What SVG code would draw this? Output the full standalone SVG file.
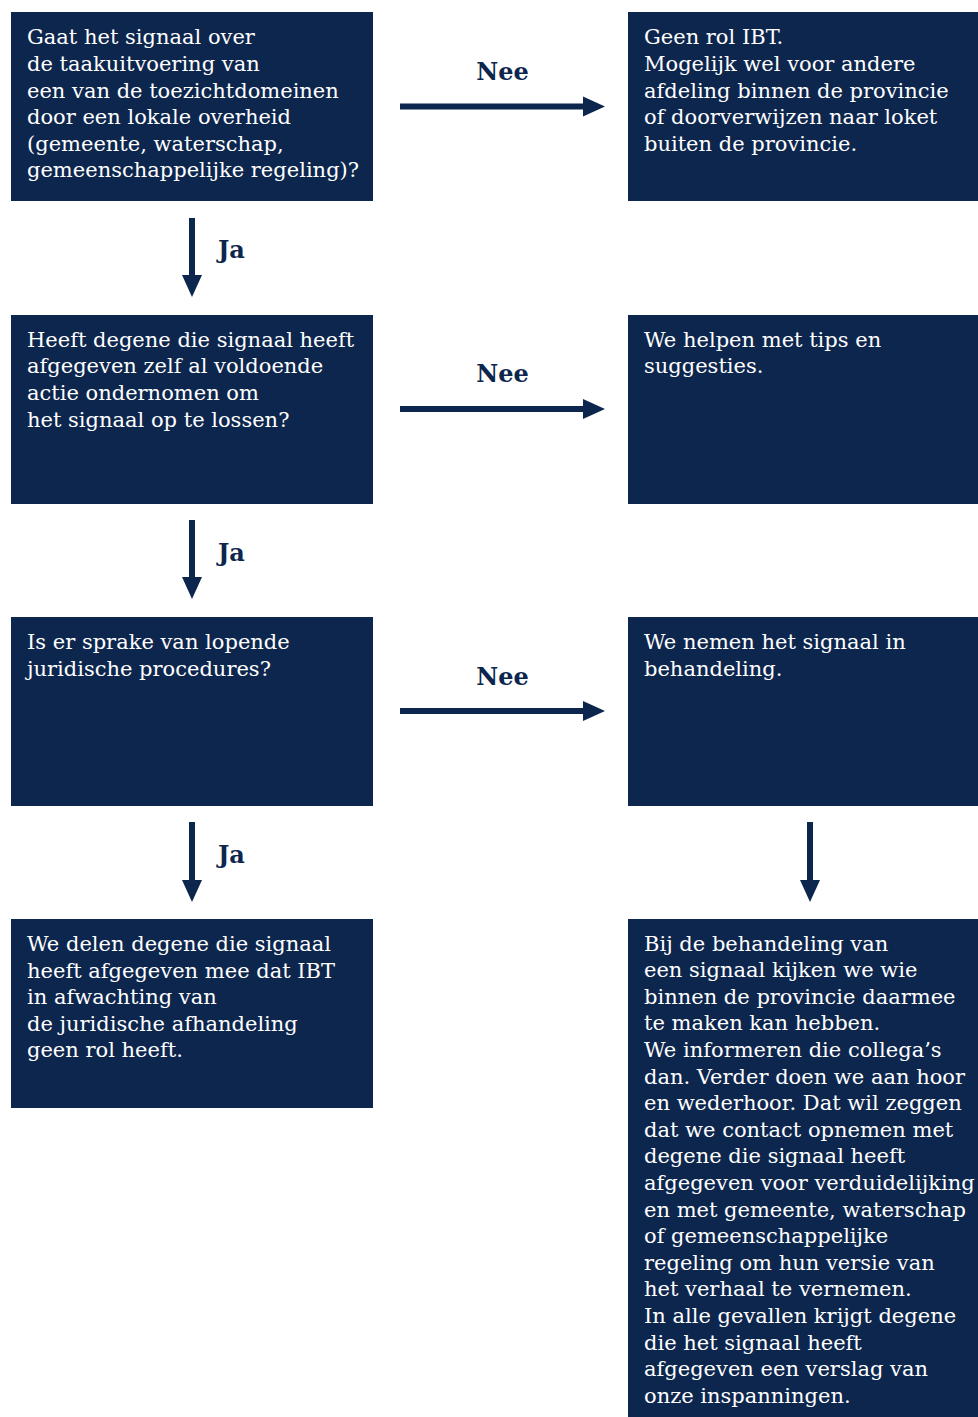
<svg xmlns="http://www.w3.org/2000/svg" width="978" height="1417" viewBox="0 0 978 1417">
<defs>
<style>
.box{fill:#0d264e}
.t{font-family:"DejaVu Serif","Liberation Serif",serif;font-size:21px;fill:#ffffff}
.lbl{font-family:"DejaVu Serif","Liberation Serif",serif;font-size:24px;font-weight:bold;fill:#0d264e}
.c{stroke:#0d264e;stroke-width:6;fill:none;marker-end:url(#ah)}
</style>
<marker id="ah" markerUnits="userSpaceOnUse" markerWidth="24" markerHeight="22" viewBox="0 0 24 22" refX="1" refY="11" orient="auto">
<path d="M0,1 L22,11 L0,21 z" fill="#0d264e"/>
</marker>
</defs>
<rect width="978" height="1417" fill="#ffffff"/>

<g id="q1">
<rect class="box" x="11" y="12" width="362" height="189"/>
<text class="t" x="27" y="44.3">
<tspan x="27" dy="0">Gaat het signaal over</tspan>
<tspan x="27" dy="26.6">de taakuitvoering van</tspan>
<tspan x="27" dy="26.6">een van de toezichtdomeinen</tspan>
<tspan x="27" dy="26.6">door een lokale overheid</tspan>
<tspan x="27" dy="26.6">(gemeente, waterschap,</tspan>
<tspan x="27" dy="26.6">gemeenschappelijke regeling)?</tspan>
</text>
</g>

<g id="a1">
<rect class="box" x="628" y="12" width="350" height="189"/>
<text class="t" x="644" y="44.3">
<tspan x="644" dy="0">Geen rol IBT.</tspan>
<tspan x="644" dy="26.6">Mogelijk wel voor andere</tspan>
<tspan x="644" dy="26.6">afdeling binnen de provincie</tspan>
<tspan x="644" dy="26.6">of doorverwijzen naar loket</tspan>
<tspan x="644" dy="26.6">buiten de provincie.</tspan>
</text>
</g>

<g id="q2">
<rect class="box" x="11" y="315" width="362" height="189"/>
<text class="t" x="27" y="346.8">
<tspan x="27" dy="0">Heeft degene die signaal heeft</tspan>
<tspan x="27" dy="26.6">afgegeven zelf al voldoende</tspan>
<tspan x="27" dy="26.6">actie ondernomen om</tspan>
<tspan x="27" dy="26.6">het signaal op te lossen?</tspan>
</text>
</g>

<g id="a2">
<rect class="box" x="628" y="315" width="350" height="189"/>
<text class="t" x="644" y="346.8">
<tspan x="644" dy="0">We helpen met tips en</tspan>
<tspan x="644" dy="26.6">suggesties.</tspan>
</text>
</g>

<g id="q3">
<rect class="box" x="11" y="617" width="362" height="189"/>
<text class="t" x="27" y="649">
<tspan x="27" dy="0">Is er sprake van lopende</tspan>
<tspan x="27" dy="26.6">juridische procedures?</tspan>
</text>
</g>

<g id="a3">
<rect class="box" x="628" y="617" width="350" height="189"/>
<text class="t" x="644" y="649">
<tspan x="644" dy="0">We nemen het signaal in</tspan>
<tspan x="644" dy="26.6">behandeling.</tspan>
</text>
</g>

<g id="q4">
<rect class="box" x="11" y="919" width="362" height="189"/>
<text class="t" x="27" y="951">
<tspan x="27" dy="0">We delen degene die signaal</tspan>
<tspan x="27" dy="26.6">heeft afgegeven mee dat IBT</tspan>
<tspan x="27" dy="26.6">in afwachting van</tspan>
<tspan x="27" dy="26.6">de juridische afhandeling</tspan>
<tspan x="27" dy="26.6">geen rol heeft.</tspan>
</text>
</g>

<g id="a4">
<rect class="box" x="628" y="919" width="350" height="498"/>
<text class="t" x="644" y="950.5">
<tspan x="644" dy="0">Bij de behandeling van</tspan>
<tspan x="644" dy="26.6">een signaal kijken we wie</tspan>
<tspan x="644" dy="26.6">binnen de provincie daarmee</tspan>
<tspan x="644" dy="26.6">te maken kan hebben.</tspan>
<tspan x="644" dy="26.6">We informeren die collega’s</tspan>
<tspan x="644" dy="26.6">dan. Verder doen we aan hoor</tspan>
<tspan x="644" dy="26.6">en wederhoor. Dat wil zeggen</tspan>
<tspan x="644" dy="26.6">dat we contact opnemen met</tspan>
<tspan x="644" dy="26.6">degene die signaal heeft</tspan>
<tspan x="644" dy="26.6">afgegeven voor verduidelijking</tspan>
<tspan x="644" dy="26.6">en met gemeente, waterschap</tspan>
<tspan x="644" dy="26.6">of gemeenschappelijke</tspan>
<tspan x="644" dy="26.6">regeling om hun versie van</tspan>
<tspan x="644" dy="26.6">het verhaal te vernemen.</tspan>
<tspan x="644" dy="26.6">In alle gevallen krijgt degene</tspan>
<tspan x="644" dy="26.6">die het signaal heeft</tspan>
<tspan x="644" dy="26.6">afgegeven een verslag van</tspan>
<tspan x="644" dy="26.6">onze inspanningen.</tspan>
</text>
</g>

<g id="connectors">
<line class="c" x1="400" y1="106.5" x2="584" y2="106.5"/>
<text class="lbl" x="502.5" y="79.5" text-anchor="middle">Nee</text>
<line class="c" x1="192" y1="218" x2="192" y2="276"/>
<text class="lbl" x="218" y="258">Ja</text>

<line class="c" x1="400" y1="409" x2="584" y2="409"/>
<text class="lbl" x="502.5" y="382" text-anchor="middle">Nee</text>
<line class="c" x1="192" y1="520" x2="192" y2="578"/>
<text class="lbl" x="218" y="560.5">Ja</text>

<line class="c" x1="400" y1="711" x2="584" y2="711"/>
<text class="lbl" x="502.5" y="684.5" text-anchor="middle">Nee</text>
<line class="c" x1="192" y1="822" x2="192" y2="881"/>
<text class="lbl" x="218" y="862.5">Ja</text>

<line class="c" x1="810" y1="822" x2="810" y2="881"/>
</g>
</svg>
